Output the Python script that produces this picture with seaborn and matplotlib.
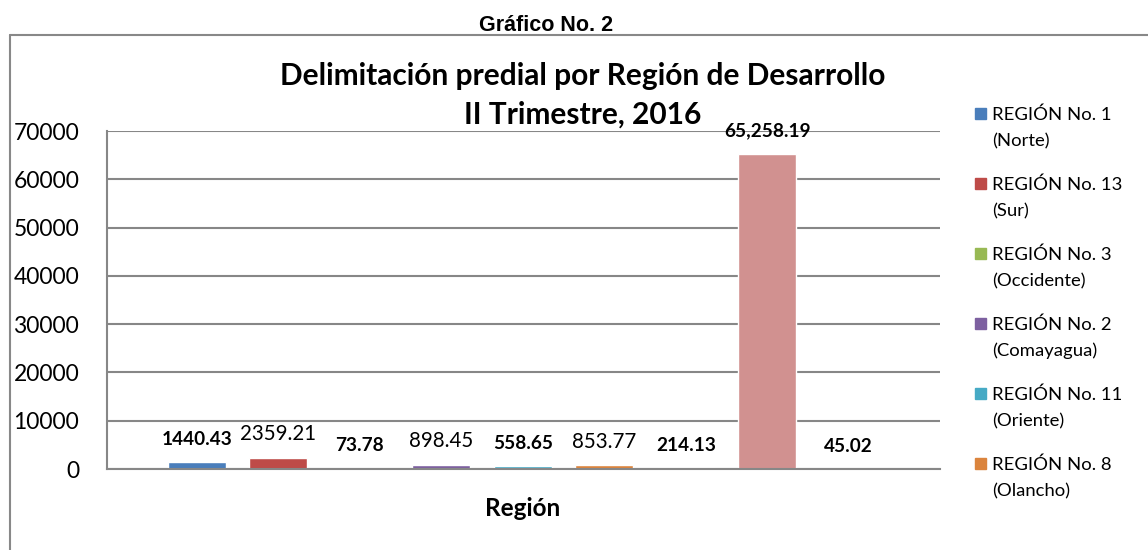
import matplotlib
matplotlib.use('Agg')
import matplotlib.pyplot as plt
from matplotlib.lines import Line2D
from matplotlib.patches import Rectangle
import seaborn as sns
import pandas as pd

# DATA

regions = ['REGIÓN No. 1\n(Norte)', 'REGIÓN No. 13\n(Sur)', 'REGIÓN No. 3\n(Occidente)',
           'REGIÓN No. 2\n(Comayagua)', 'REGIÓN No. 11\n(Oriente)', 'REGIÓN No. 8\n(Olancho)',
           'Serie 7', 'Serie 8', 'Serie 9']
values = [1440.43, 2359.21, 73.78, 898.45, 558.65, 853.77, 214.13, 65258.19, 45.02]
value_labels = ['1440.43', '2359.21', '73.78', '898.45', '558.65', '853.77', '214.13', '65,258.19', '45.02']
label_bold = [True, False, True, False, True, False, True, True, True]
colors = ['#4a7ebb', '#be4b48', '#98b954', '#7d60a0', '#46aac5', '#db843d', '#95add8', '#d19190', '#c3d69b']
legend_shown = 6  # the rest of the legend is cut off in the original
y_ticks = [0, 10000, 20000, 30000, 40000, 50000, 60000, 70000]

df = pd.DataFrame({'Region': regions, 'Valor': values})

sns.set_theme(style='white')
plt.rcParams['font.family'] = ['Lato', 'DejaVu Sans']
plt.rcParams['text.color'] = 'black'
plt.rcParams['ytick.color'] = 'black'
plt.rcParams['axes.labelcolor'] = 'black'

W, H = 1148, 550
fig = plt.figure(figsize=(W / 100, H / 100), dpi=100)
ax = fig.add_axes([107 / W, 1 - 469 / H, (940 - 107) / W, (469 - 131) / H])

sns.barplot(data=df, x='Region', y='Valor', hue='Region', palette=colors, width=0.71,
            dodge=False, legend=False, saturation=1, ax=ax)

ax.set_xlim(-1.1, len(values) - 1 + 1.12)
ax.set_ylim(0, 70000)
ax.set_yticks(y_ticks)
ax.set_yticklabels([str(t) for t in y_ticks], fontsize=16.5)
ax.tick_params(axis='y', length=0, pad=20)
ax.set_xticks([])
ax.set_xlabel('')
ax.set_ylabel('')

# grid and frame
ax.grid(axis='y', color='#878787', linewidth=1.5)
ax.set_axisbelow(True)
for side in ['top', 'right']:
    ax.spines[side].set_visible(False)
for side in ['left', 'bottom']:
    ax.spines[side].set_color('#878787')
    ax.spines[side].set_linewidth(1.5)

# value labels
for i, (v, txt, b) in enumerate(zip(values, value_labels, label_bold)):
    ax.annotate(txt, (i, v), xytext=(0, 12.4), textcoords='offset points',
                ha='center', va='baseline', fontsize=13.7 if b else 14.8,
                fontweight='bold' if b else 'normal')

# titles
fig.text(546 / W, 1 - 31 / H, 'Gráfico No. 2', ha='center', va='baseline',
         fontsize=15.5, fontweight='bold', family='Liberation Sans')
fig.text(583 / W, 1 - 85 / H, 'Delimitación predial por Región de Desarrollo',
         ha='center', va='baseline', fontsize=21.5, fontweight='bold')
fig.text(583 / W, 1 - 124 / H, 'II Trimestre, 2016',
         ha='center', va='baseline', fontsize=21.5, fontweight='bold')
fig.text(523 / W, 1 - 516 / H, 'Región', ha='center', va='baseline',
         fontsize=17.5, fontweight='bold')

# legend (drawn by hand, only the visible entries)
for k in range(legend_shown):
    base = 120 + k * 70
    fig.add_artist(Rectangle((975 / W, 1 - (base - 1) / H), 11 / W, 11 / H,
                             transform=fig.transFigure, color=colors[k]))
    line1, line2 = regions[k].split('\n')
    fig.text(992 / W, 1 - base / H, line1, ha='left', va='baseline', fontsize=13.3)
    fig.text(992 / W, 1 - (base + 26) / H, line2, ha='left', va='baseline', fontsize=13.3)

# outer border of the chart object
fig.add_artist(Line2D([10 / W, 1], [1 - 35 / H, 1 - 35 / H], color='#888888', linewidth=1.5))
fig.add_artist(Line2D([10 / W, 10 / W], [0, 1 - 35 / H], color='#888888', linewidth=1.5))

plt.savefig('out.png', dpi=100)
